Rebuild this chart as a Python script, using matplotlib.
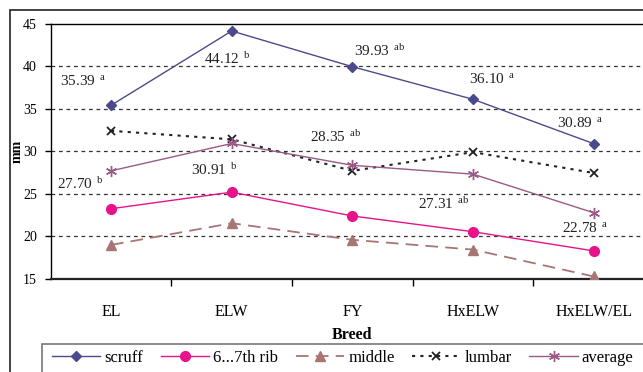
import numpy as np
import matplotlib
matplotlib.use("Agg")
import matplotlib.pyplot as plt
from matplotlib.patches import Rectangle

plt.rcParams['font.family'] = ['Liberation Serif', 'DejaVu Serif']
plt.rcParams['mathtext.fontset'] = 'custom'
plt.rcParams['mathtext.rm'] = 'Liberation Serif'

# data
breeds = ['EL', 'ELW', 'FY', 'HxELW', 'HxELW/EL']
scruff = [35.39, 44.12, 39.93, 36.10, 30.89]
rib = [23.25, 25.2, 22.4, 20.55, 18.3]
middle = [19.0, 21.55, 19.6, 18.45, 15.3]
lumbar = [32.4, 31.4, 27.7, 29.9, 27.45]
average = [27.70, 30.91, 28.35, 27.31, 22.78]
scruff_sig = ['a', 'b', 'ab', 'a', 'a']
average_sig = ['b', 'b', 'ab', 'ab', 'a']

# label offsets in pixels (dx, dy) from the point
scruff_off = [(-28, 24), (-5, -28), (27, 16), (19, 20), (-14, 21)]
average_off = [(-31, -13), (-18, -27), (-17, 28), (-29, -30), (-9, -15)]

fig = plt.figure(figsize=(6.43, 3.72), dpi=100)
ax = fig.add_axes([50.7/643, 1-279/372, 603.3/643, 255.5/372])
x = np.arange(len(breeds))

ax.plot(x, scruff, color='#4b4b8c', lw=1.0, marker='D', ms=5.5, label='scruff', zorder=5)
ax.plot(x, rib, color='#e8128a', lw=1.0, marker='o', ms=7, label='6...7th rib', zorder=5)
ax.plot(x, middle, color='#a87575', lw=1.3, ls=(0, (7, 4)), marker='^', ms=7, label='middle', zorder=5)
ax.plot(x, lumbar, color='#222222', lw=1.5, ls=(0, (1.5, 2.5)), marker='x', ms=6,
        mew=1.3, label='lumbar', zorder=5)
ax.plot(x, average, color='#9a5a86', lw=1.0, marker=(6, 2, 0), ms=8, mew=1.0,
        label='average', zorder=5)

for i in range(len(breeds)):
    ax.annotate(f"$\\mathregular{{{scruff[i]:.2f}\\ ^{{{scruff_sig[i]}}}}}$", (x[i], scruff[i]),
                xytext=scruff_off[i], textcoords='offset pixels', ha='center', va='center',
                fontsize=11, color='#222222', zorder=6)
    ax.annotate(f"$\\mathregular{{{average[i]:.2f}\\ ^{{{average_sig[i]}}}}}$", (x[i], average[i]),
                xytext=average_off[i], textcoords='offset pixels', ha='center', va='center',
                fontsize=11, color='#222222', zorder=6)

ax.set_xlim(-0.5, 4.5)
ax.set_ylim(15, 45)
ax.set_yticks([15, 20, 25, 30, 35, 40, 45])
ax.set_xticks(x)
ax.set_xticklabels(breeds, fontsize=11.5)
ax.set_xticks(np.arange(0.5, 4.5, 1), minor=True)
ax.tick_params(axis='x', which='major', length=0, pad=18)
ax.tick_params(axis='x', which='minor', length=5, direction='out', width=1)
ax.tick_params(axis='y', length=4, direction='out', labelsize=10, pad=6, width=1)
for yv in [20, 25, 30, 35, 40]:
    ax.axhline(yv, color='#333333', lw=0.9, ls=(0, (3, 3)), zorder=1)

ax.spines['right'].set_visible(False)
for s in ['top', 'left']:
    ax.spines[s].set_linewidth(1.0)
ax.spines['bottom'].set_linewidth(1.6)
ax.spines['bottom'].set_color('#222222')

ax.set_ylabel('mm', fontsize=10, fontweight='bold')
ax.yaxis.set_label_coords(-0.045, 0.5)
ax.set_xlabel('Breed', fontsize=11.5, fontweight='bold', labelpad=5)

# outer frame and legend box, both running off the image
fig.patches.append(Rectangle((10/643, -0.2), 1.2, 1.2 - 10/372, transform=fig.transFigure,
                             fill=False, lw=1.2, ec='#222222'))
fig.patches.append(Rectangle((42/643, -0.2), 1.2, 0.2 + 1 - 344/372, transform=fig.transFigure,
                             fill=False, lw=1.2, ec='#777777'))

leg = fig.legend(loc='center left', bbox_to_anchor=(52/643, 1-358/372), ncol=5, frameon=False,
                 fontsize=12, handlelength=2.9, handletextpad=0.25, columnspacing=1.05,
                 borderaxespad=0, borderpad=0)

fig.savefig('out.png', dpi=100)
